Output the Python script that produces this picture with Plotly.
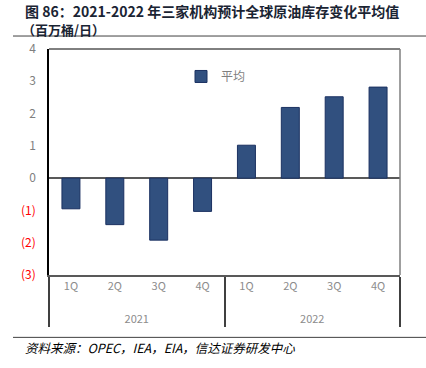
import plotly.graph_objects as go

years = ["2021", "2021", "2021", "2021", "2022", "2022", "2022", "2022"]
quarters = ["1Q", "2Q", "3Q", "4Q", "1Q", "2Q", "3Q", "4Q"]
avg_values = [-0.95, -1.44, -1.92, -1.03, 1.02, 2.19, 2.52, 2.82]
y_tick_vals = [4, 3, 2, 1, 0, -1, -2, -3]
y_tick_text = ["4", "3", "2", "1", "0",
               "<span style='color:#ff0000'>(1)</span>",
               "<span style='color:#ff0000'>(2)</span>",
               "<span style='color:#ff0000'>(3)</span>"]

title_line1 = "图 86：2021-2022 年三家机构预计全球原油库存变化平均值"
title_line2 = "（百万桶/日）"
source_text = "资料来源：OPEC，IEA，EIA，信达证券研发中心"

fig = go.Figure()
fig.add_trace(go.Bar(
    x=[["<br>" + y for y in years], quarters], y=avg_values, name="平均",
    marker=dict(color="#31507f", line=dict(color="#1b3161", width=1)),
))

W, H = 426, 368
L, R, T, B = 49, 26, 49, 92.5
pw, ph = W - L - R, H - T - B

def px(x):
    return (x - L) / pw

def py(y):
    return 1 - (y - T) / ph

fig.update_layout(
    width=W, height=H,
    margin=dict(l=L, r=R, t=T, b=B, autoexpand=False),
    paper_bgcolor="white", plot_bgcolor="white",
    font=dict(family="Noto Sans CJK SC, Liberation Sans, sans-serif", color="#7f7f7f", size=12),
    bargap=0.59,
    showlegend=True,
    legend=dict(x=px(181), y=py(62), xanchor="left", yanchor="top",
                bgcolor="rgba(0,0,0,0)", font=dict(size=12, color="#7f7f7f"),
                itemwidth=30, tracegroupgap=0),
    xaxis=dict(
        type="multicategory", showline=True, linecolor="#595959", linewidth=2,
        showgrid=False, ticks="", tickfont=dict(size=11, color="#8c8c8c"),
        showdividers=True, dividercolor="#404040", dividerwidth=1.5,
        automargin=False,
    ),
    yaxis=dict(
        range=[-3, 4], tickvals=y_tick_vals, ticktext=y_tick_text,
        showgrid=False, zeroline=True, zerolinecolor="#595959", zerolinewidth=2,
        showline=True, linecolor="#000000", linewidth=1.5,
        tickfont=dict(size=12, color="#7f7f7f"), ticks="", ticklabelstandoff=9,
        automargin=False,
    ),
)

# plot border top and right
fig.add_shape(type="line", xref="paper", yref="paper", x0=0, x1=1, y0=1, y1=1,
              line=dict(color="#000000", width=1))
fig.add_shape(type="line", xref="paper", yref="paper", x0=1, x1=1, y0=0, y1=1,
              line=dict(color="#7f7f7f", width=1.5))

# title
fig.add_annotation(text="<b>" + title_line1 + "</b>", xref="paper", yref="paper",
                   x=px(23), y=py(11), xanchor="left", yanchor="middle", align="left",
                   showarrow=False, font=dict(size=14, color="#1a2433",
                                              family="Noto Sans CJK SC, sans-serif"))
fig.add_annotation(text="<b>" + title_line2 + "</b>", xref="paper", yref="paper",
                   x=px(20), y=py(29.5), xanchor="left", yanchor="middle", align="left",
                   showarrow=False, font=dict(size=13, color="#1a2433",
                                              family="Noto Sans CJK SC, sans-serif"))
fig.add_shape(type="line", xref="paper", yref="paper", x0=px(13), x1=px(426),
              y0=py(36), y1=py(36), line=dict(color="#404040", width=1))
fig.add_shape(type="line", xref="paper", yref="paper", x0=px(13), x1=px(426),
              y0=py(338), y1=py(338), line=dict(color="#404040", width=1))
fig.add_annotation(text="<i>" + source_text + "</i>", xref="paper", yref="paper",
                   x=px(23), y=py(348), xanchor="left", yanchor="middle", align="left",
                   showarrow=False, font=dict(size=12.5, color="#000000",
                                              family="Noto Sans CJK SC, sans-serif"))

fig.write_html("out.html", config={"displayModeBar": False},
               post_script="document.body.style.margin='0';")
